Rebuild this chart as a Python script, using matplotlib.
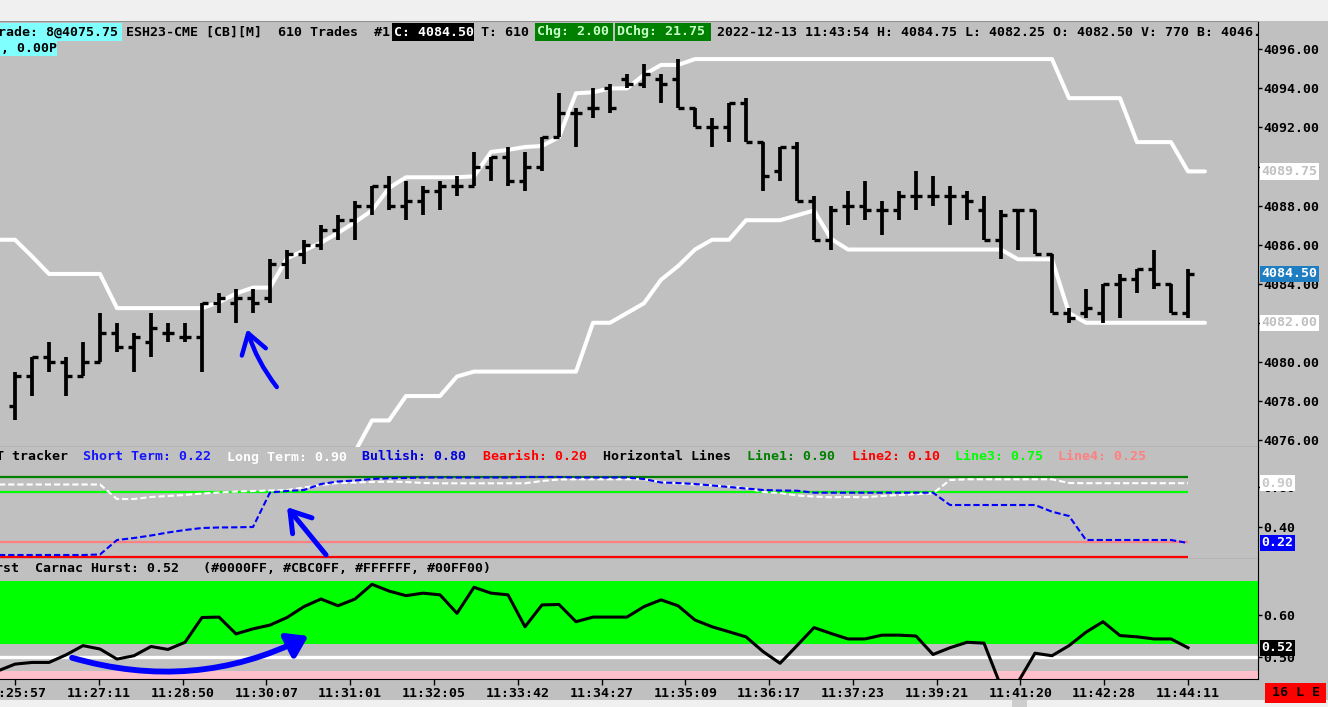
import numpy as np
import matplotlib
matplotlib.use("Agg")
import matplotlib.pyplot as plt
from matplotlib.patches import Rectangle
from matplotlib.ticker import FormatStrFormatter
from matplotlib.transforms import blended_transform_factory

# ---------------- data ----------------
bar_open = [4077.75, 4079.25, 4080.25, 4080.0, 4079.25, 4080.0, 4081.5, 4080.75, 4081.0, 4081.5,
            4081.25, 4081.25, 4083.0, 4083.0, 4083.25, 4083.25, 4085.0, 4085.5, 4086.0, 4086.75,
            4087.25, 4088.0, 4089.0, 4088.0, 4088.25, 4088.75, 4089.0, 4089.0, 4090.0, 4090.5,
            4089.25, 4090.0, 4091.5, 4092.75, 4093.0, 4094.0, 4094.5, 4094.25, 4094.5, 4094.5,
            4093.0, 4092.0, 4092.0, 4093.25, 4091.25, 4089.75, 4091.0, 4088.25, 4086.25, 4088.0,
            4088.0, 4087.75, 4087.75, 4088.5, 4088.5, 4088.5, 4088.5, 4087.75, 4086.25, 4087.75,
            4087.75, 4085.5, 4082.5, 4082.5, 4082.5, 4084.0, 4084.25, 4084.75, 4084.0, 4082.5]
bar_high = [4079.5, 4080.25, 4081.0, 4080.25, 4081.0, 4082.5, 4082.0, 4081.5, 4082.5, 4082.0,
            4082.0, 4083.0, 4083.5, 4083.75, 4083.75, 4085.25, 4085.75, 4086.25, 4087.0, 4087.5,
            4088.25, 4089.0, 4089.5, 4089.25, 4089.0, 4089.25, 4089.5, 4090.75, 4090.5, 4091.0,
            4090.75, 4091.5, 4093.75, 4093.0, 4094.0, 4094.25, 4094.75, 4095.25, 4094.75, 4095.5,
            4093.0, 4092.5, 4093.25, 4093.5, 4091.25, 4091.0, 4091.25, 4088.5, 4088.0, 4088.75,
            4089.25, 4088.25, 4088.75, 4089.75, 4089.5, 4089.0, 4088.75, 4088.5, 4087.75, 4087.75,
            4087.75, 4085.5, 4082.75, 4083.75, 4084.0, 4084.5, 4084.75, 4085.75, 4084.0, 4084.75]
bar_low = [4077.0, 4078.25, 4079.5, 4078.25, 4079.25, 4080.0, 4080.5, 4079.5, 4080.25, 4081.0,
           4081.0, 4079.5, 4082.5, 4082.0, 4082.5, 4083.0, 4084.25, 4085.0, 4085.75, 4086.25,
           4086.25, 4087.5, 4087.75, 4087.25, 4087.5, 4087.75, 4088.5, 4089.0, 4089.25, 4089.0,
           4088.75, 4089.75, 4091.5, 4091.0, 4092.5, 4092.75, 4094.0, 4094.0, 4093.25, 4093.0,
           4092.0, 4091.0, 4091.25, 4091.25, 4088.75, 4089.25, 4088.25, 4086.25, 4085.75, 4087.0,
           4087.25, 4086.5, 4087.25, 4087.75, 4088.0, 4087.0, 4087.25, 4086.25, 4085.25, 4085.75,
           4085.5, 4082.5, 4082.0, 4082.25, 4082.0, 4082.25, 4083.5, 4083.75, 4082.5, 4082.25]
bar_close = [4079.25, 4080.25, 4080.0, 4079.25, 4080.0, 4081.5, 4080.75, 4081.25, 4081.75, 4081.5,
             4081.25, 4083.0, 4083.25, 4083.25, 4083.0, 4085.0, 4085.5, 4086.0, 4086.75, 4087.25,
             4088.0, 4089.0, 4088.0, 4088.25, 4088.75, 4089.0, 4089.0, 4090.0, 4090.5, 4089.25,
             4090.0, 4091.5, 4092.75, 4092.75, 4093.0, 4093.0, 4094.25, 4094.75, 4094.25, 4093.0,
             4092.0, 4092.0, 4093.25, 4091.25, 4089.5, 4091.0, 4088.25, 4086.25, 4087.75, 4088.0,
             4087.75, 4087.75, 4088.5, 4088.5, 4088.5, 4088.5, 4088.25, 4086.25, 4087.5, 4087.75,
             4085.5, 4082.5, 4082.25, 4082.75, 4084.0, 4084.25, 4084.75, 4084.0, 4082.5, 4084.5]

upper_start = -1
upper_band = [4086.25, 4086.25, 4085.4, 4084.5, 4084.5, 4084.5, 4084.5, 4082.75, 4082.75, 4082.75,
              4082.75, 4082.75, 4082.75, 4083.05, 4083.5, 4083.8, 4083.8, 4085.3, 4085.7, 4086.1,
              4086.6, 4087.15, 4087.75, 4088.9, 4089.45, 4089.45, 4089.45, 4089.45, 4089.5, 4090.75,
              4090.85, 4091.0, 4091.05, 4091.5, 4093.75, 4093.8, 4094.0, 4094.0, 4094.7, 4095.2,
              4095.2] + [4095.5] * 22 + [4093.5] * 4 + [4091.25] * 3 + [4089.75] * 2

lower_start = 19
lower_band = [4074.5, 4075.4, 4077.0, 4077.0, 4078.25, 4078.25, 4078.25, 4079.25] + [4079.5] * 7 + \
             [4082.0, 4082.0, 4082.5, 4083.0, 4084.2, 4084.9, 4085.75, 4086.25, 4086.25, 4087.25,
              4087.25, 4087.25, 4087.5, 4087.75, 4086.3] + [4085.75] * 10 + [4085.25] * 3 + \
             [4082.5] + [4082.0] * 8

short_start = -1
short_term = [0.12] * 6 + [0.125, 0.27, 0.29, 0.315, 0.345, 0.37, 0.39, 0.395, 0.397, 0.40,
              0.745, 0.76, 0.77, 0.83, 0.855, 0.865, 0.88, 0.887, 0.89] + [0.895] * 6 + \
             [0.90] * 3 + [0.895] * 4 + [0.88, 0.845, 0.84, 0.83, 0.815, 0.80, 0.785, 0.77, 0.765,
              0.763] + [0.743] * 8 + [0.62] * 6 + [0.553, 0.51] + [0.27] * 6 + [0.24]

long_start = -1
long_term = [0.825] * 7 + [0.68, 0.68, 0.70, 0.71, 0.72, 0.735, 0.745, 0.755, 0.76, 0.765, 0.77,
             0.795, 0.82, 0.84, 0.845, 0.85, 0.853, 0.85, 0.84] + [0.837] * 6 + [0.86, 0.875] + \
            [0.877] * 5 + [0.85, 0.835, 0.825, 0.815, 0.805, 0.79, 0.75, 0.74, 0.715, 0.705, 0.697,
             0.70, 0.697, 0.71, 0.72, 0.728, 0.737, 0.87] + [0.877] * 6 + [0.84] + [0.838] * 7

hurst_start = -1
hurst = [0.467, 0.483, 0.487, 0.487, 0.505, 0.527, 0.519, 0.495, 0.503, 0.525,
         0.518, 0.535, 0.594, 0.595, 0.555, 0.567, 0.576, 0.594, 0.620, 0.638,
         0.622, 0.638, 0.673, 0.657, 0.646, 0.652, 0.648, 0.604, 0.666, 0.652,
         0.648, 0.572, 0.624, 0.625, 0.584, 0.595, 0.595, 0.595, 0.620, 0.636,
         0.622, 0.588, 0.572, 0.560, 0.548, 0.513, 0.485, 0.527, 0.570, 0.556,
         0.543, 0.543, 0.552, 0.552, 0.550, 0.506, 0.522, 0.535, 0.533, 0.43,
         0.44, 0.509, 0.503, 0.527, 0.559, 0.584, 0.551, 0.548, 0.543, 0.543, 0.522]

time_labels = ["11:25:57", "11:27:11", "11:28:50", "11:30:07", "11:31:01", "11:32:05",
               "11:33:42", "11:34:27", "11:35:09", "11:36:17", "11:37:23", "11:39:21",
               "11:41:20", "11:42:28", "11:44:11"]
price_ticks = [4076, 4078, 4080, 4082, 4084, 4086, 4088, 4090, 4092, 4094, 4096]
tracker_ticks = [0.40, 0.80]
hurst_ticks = [0.50, 0.60]
h_line_values = [0.90, 0.10, 0.75, 0.25]
h_line_colors = ["#008000", "#FF0000", "#00FF00", "#FF8080"]
hurst_band = (0.531, 0.681)
hurst_mid = 0.50
hurst_low_band = (0.40, 0.467)

# ---------------- figure ----------------
W, H = 1328, 707
plt.rcParams["font.family"] = ["DejaVu Sans Mono"]
plt.rcParams["font.weight"] = "bold"
FS = 9.5
BG = "#C0C0C0"

fig = plt.figure(figsize=(W / 100, H / 100), dpi=100)
fig.patch.set_facecolor(BG)


def fx(x):
    return x / W


def fy(y):
    return 1 - y / H


def frect(x0, y0, x1, y1, color, z=1):
    fig.patches.append(Rectangle((fx(x0), fy(y1)), (x1 - x0) / W, (y1 - y0) / H,
                                 transform=fig.transFigure, color=color, zorder=z, lw=0))


def ftext(x, y, s, color="black", ha="left"):
    fig.text(fx(x), fy(y), s, color=color, fontsize=FS, fontweight="bold",
             ha=ha, va="center", zorder=5)


frect(0, 0, W, 21, "#F0F0F0")
frect(0, 700, W, H, "#F0F0F0")
frect(1012, 700, 1027, H, "#CDCDCD", z=2)

axw = 1258 / W
ax1 = fig.add_axes([0, fy(447), axw, (447 - 21) / H])
ax2 = fig.add_axes([0, fy(559), axw, (559 - 447) / H], sharex=ax1)
ax3 = fig.add_axes([0, fy(679), axw, (679 - 559) / H], sharex=ax1)

for ax in (ax1, ax2, ax3):
    ax.set_facecolor(BG)
    ax.spines["left"].set_visible(False)
    ax.spines["right"].set_color("black")
    ax.spines["bottom"].set_color("black")
    ax.spines["top"].set_visible(False)
    ax.yaxis.tick_right()
    ax.tick_params(axis="y", direction="out", length=3, width=1, pad=1,
                   labelsize=FS, colors="black")
    ax.yaxis.set_major_formatter(FormatStrFormatter("%.2f"))
ax1.spines["top"].set_visible(True)
ax1.spines["top"].set_color("#909090")

# ---- price bars ----
n = len(bar_open)
xb = np.arange(n)
ax1.vlines(xb, bar_low, bar_high, color="black", lw=2.7, zorder=4)
ax1.hlines(bar_open, xb - 0.36, xb, color="black", lw=2.4, zorder=4)
ax1.hlines(bar_close, xb, xb + 0.36, color="black", lw=2.4, zorder=4)

xu = np.arange(upper_start, upper_start + len(upper_band))
xl = np.arange(lower_start, lower_start + len(lower_band))
ax1.plot(xu, upper_band, color="white", lw=2.9, zorder=3, solid_capstyle="round")
ax1.plot(xl, lower_band, color="white", lw=2.9, zorder=3, solid_capstyle="round")
ax1.set_ylim(4075.64, 4097.45)
ax1.set_yticks(price_ticks)

# ---- tracker panel ----
last_x = n - 1
for v, c in zip(h_line_values, h_line_colors):
    ax2.hlines(v, -1, last_x, color=c, lw=1.6, zorder=2)
xs = np.arange(short_start, short_start + len(short_term))
xlng = np.arange(long_start, long_start + len(long_term))
ax2.plot(xlng, long_term, color="white", lw=1.5, dashes=(3, 1.4), zorder=3)
ax2.plot(xs, short_term, color="#0000FF", lw=1.5, dashes=(3, 1.4), zorder=4)
ax2.set_ylim(0.08, 1.2)
ax2.set_yticks(tracker_ticks)

# ---- hurst panel ----
ax3.axhspan(*hurst_band, color="#00FF00", lw=0, zorder=1)
ax3.axhspan(*hurst_low_band, color="#FFC0CB", lw=0, zorder=1)
ax3.axhline(hurst_mid, color="white", lw=2.4, zorder=2)
xh = np.arange(hurst_start, hurst_start + len(hurst))
ax3.plot(xh, hurst, color="black", lw=2.2, zorder=3)
ax3.set_ylim(0.4476, 0.7333)
ax3.set_yticks(hurst_ticks)

# ---- x axis ----
ax3.set_xticks(np.linspace(0, n - 1, len(time_labels)))
ax3.set_xticklabels(time_labels)
ax3.tick_params(axis="x", direction="out", length=4, width=1, pad=1.5, labelsize=FS)
for ax in (ax1, ax2):
    ax.tick_params(axis="x", bottom=False, labelbottom=False)
ax1.set_xlim(-15 / 17, (1258 - 15) / 17)

# ---- right-axis value boxes ----
def value_box(ax, v, s, fc, tc):
    tr = blended_transform_factory(ax.transAxes, ax.transData)
    ax.text(1261.5 / 1258, v, s, transform=tr, ha="left", va="center", color=tc,
            fontsize=FS, fontweight="bold", clip_on=False, zorder=10,
            bbox=dict(boxstyle="square,pad=0.13", fc=fc, ec="none"))


value_box(ax1, upper_band[-1], "%.2f" % upper_band[-1], "white", "#C0C0C0")
value_box(ax1, bar_close[-1], "%.2f" % bar_close[-1], "#1F7DC2", "white")
value_box(ax1, lower_band[-1], "%.2f" % lower_band[-1], "white", "#C0C0C0")
value_box(ax2, long_term[-1], "0.90", "white", "#C8C8C8")
value_box(ax2, short_term[-1], "0.22", "#0000FF", "white")
value_box(ax3, hurst[-1], "0.52", "black", "white")

# ---- header rows ----
frect(0, 23, 122, 41, "#80FFFF")
ftext(-10, 32, "Trade: 8@4075.75")
ftext(126, 32, "ESH23-CME [CB][M]  610 Trades  #1")
frect(392, 23, 474, 41, "black")
ftext(394, 32, "C: 4084.50", color="white")
ftext(481, 32, "T: 610")
frect(535, 23, 613, 41, "#008000")
ftext(537, 32, "Chg: 2.00", color="#C8FFC8")
frect(615, 23, 711, 41, "#008000")
ftext(617, 32, "DChg: 21.75", color="#C8FFC8")
ftext(717, 32, "2022-12-13 11:43:54 H: 4084.75 L: 4082.25 O: 4082.50 V: 770 B: 4046.")
frect(0, 41, 57, 56, "#80FFFF")
ftext(-7, 48.5, "C, 0.00P")

# tracker title
trk = [(-4, "T tracker", "black"), (83, "Short Term: 0.22", "#1414FF"),
       (227, "Long Term: 0.90", "white"), (362, "Bullish: 0.80", "#0000E0"),
       (483, "Bearish: 0.20", "#FF0000"), (603, "Horizontal Lines", "black"),
       (747, "Line1: 0.90", "#008000"), (852, "Line2: 0.10", "#FF0000"),
       (955, "Line3: 0.75", "#00FF00"), (1058, "Line4: 0.25", "#FF8080")]
for x, s, c in trk:
    ftext(x, 457, s, color=c)

ftext(-21, 569, "Hurst  Carnac Hurst: 0.52   (#0000FF, #CBC0FF, #FFFFFF, #00FF00)")

frect(1265, 683, 1326, 703, "#FF0000")
ftext(1295.5, 693, "16 L E", ha="center")

# ---- hand-drawn blue arrows ----
ax1.annotate("", xy=(13.6, 4081.8), xytext=(15.5, 4078.6),
             arrowprops=dict(arrowstyle="->,head_length=0.7,head_width=0.45", color="#0000FF",
                             lw=3.2, mutation_scale=20, connectionstyle="arc3,rad=-0.1"),
             annotation_clip=False, zorder=6)
ax2.annotate("", xy=(15.9, 0.62), xytext=(18.4, 0.10),
             arrowprops=dict(arrowstyle="->,head_length=0.7,head_width=0.45", color="#0000FF",
                             lw=3.6, mutation_scale=20),
             annotation_clip=False, zorder=6)
ax3.annotate("", xy=(17.4, 0.553), xytext=(3.2, 0.50),
             arrowprops=dict(arrowstyle="-|>,head_length=0.6,head_width=0.4", color="#0000FF",
                             lw=4.2, mutation_scale=20, connectionstyle="arc3,rad=0.2"),
             annotation_clip=False, zorder=6)

fig.savefig("out.png", dpi=100, facecolor=fig.get_facecolor())
